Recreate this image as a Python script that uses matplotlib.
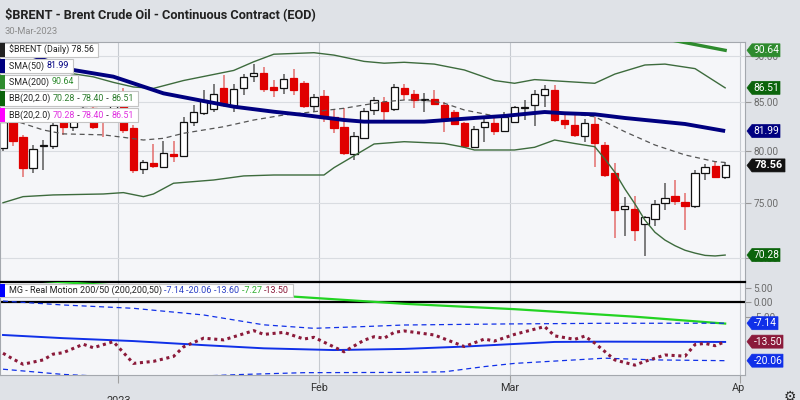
import numpy as np
import pandas as pd
import matplotlib
matplotlib.use("Agg")
import matplotlib.pyplot as plt
from matplotlib.patches import Rectangle, Polygon
from matplotlib.transforms import Bbox
from matplotlib.ticker import FixedLocator, NullLocator, NullFormatter, FuncFormatter
from matplotlib import font_manager

plt.rcParams['font.family'] = ['Roboto', 'DejaVu Sans']
plt.rcParams['axes.unicode_minus'] = False

W, H = 800, 400

# trading sessions (US holiday calendar), through the first April session
holidays = ['2022-12-26', '2023-01-02', '2023-01-16', '2023-02-20']
sessions = pd.bdate_range('2022-12-14', '2023-04-03')
sessions = sessions[~sessions.isin(pd.to_datetime(holidays))]

# ---- daily candles (Dec 14 2022 .. Mar 30 2023) ----
opens = [80.3, 82.9, 81.35, 78.35, 80.5, 80.44, 83.6, 82.38, 83.6, 84.4,
         83.9, 83.0, 85.1, 82.27, 78.25, 78.83, 78.43, 79.73, 79.48, 82.95,
         83.83, 84.23, 86.45, 84.53, 86.45, 87.82, 88.08, 86.55, 86.45, 87.55,
         86.98, 84.63, 85.64, 83.48, 82.37, 79.68, 81.25, 84.15, 84.95, 84.25,
         86.45, 85.85, 85.21, 85.36, 84.68, 83.95, 82.8, 80.34, 82.38, 82.85,
         82.0, 82.95, 84.4, 84.68, 85.75, 86.28, 83.1, 82.59, 81.5, 82.69,
         80.58, 77.86, 74.43, 74.43, 73.0, 73.5, 74.97, 75.64, 75.11, 74.72,
         77.85, 78.49, 77.46]
highs = [83.5, 83.3, 81.55, 80.53, 81.04, 82.76, 84.05, 84.35, 85.0, 85.0,
         84.2, 85.8, 86.5, 82.57, 79.13, 80.63, 80.94, 80.94, 83.4, 84.65,
         86.28, 86.97, 87.92, 86.97, 88.03, 89.13, 88.8, 87.37, 88.03, 88.56,
         87.25, 85.9, 86.28, 84.15, 84.35, 81.85, 84.35, 85.54, 85.54, 86.97,
         86.97, 86.28, 85.95, 86.28, 85.05, 84.15, 82.9, 82.49, 83.3, 83.3,
         83.93, 84.56, 85.21, 86.28, 86.82, 86.82, 84.0, 83.63, 83.2, 83.48,
         80.84, 78.75, 75.58, 75.67, 73.75, 75.28, 76.87, 77.18, 75.93, 78.15,
         78.74, 78.98, 78.93]
lows = [80.0, 80.45, 77.47, 77.85, 78.15, 80.13, 81.55, 81.96, 83.1, 82.2,
        81.4, 82.9, 81.8, 77.85, 77.75, 78.33, 78.35, 78.93, 79.4, 82.47,
        83.63, 83.93, 84.47, 83.93, 85.74, 87.17, 86.08, 85.54, 85.9, 85.74,
        84.37, 83.93, 82.95, 81.77, 79.58, 79.08, 81.15, 83.63, 83.1, 84.1,
        85.21, 84.35, 83.93, 84.68, 81.9, 82.6, 80.24, 80.3, 80.84, 81.55,
        81.9, 82.85, 83.1, 82.49, 84.45, 82.95, 82.17, 81.4, 80.84, 78.44,
        77.47, 71.78, 71.96, 71.5, 70.17, 72.83, 74.33, 74.82, 72.49, 74.53,
        77.15, 77.31, 77.21]
closes = [82.9, 80.95, 78.35, 80.13, 80.56, 82.56, 82.38, 83.6, 84.4, 82.4,
          83.0, 85.3, 82.07, 78.15, 78.93, 78.53, 79.83, 79.53, 82.95, 83.92,
          85.21, 85.9, 84.68, 86.34, 87.67, 88.15, 86.34, 86.28, 87.44, 86.28,
          84.53, 85.49, 83.32, 82.27, 79.83, 81.5, 84.1, 85.16, 84.1, 86.55,
          85.8, 85.21, 85.31, 84.78, 83.1, 82.69, 80.44, 82.18, 82.95, 82.0,
          83.48, 84.45, 84.5, 85.8, 86.34, 83.1, 82.69, 81.55, 82.8, 80.74,
          77.66, 74.33, 74.67, 72.49, 73.65, 74.9, 75.45, 75.16, 74.67, 77.8,
          78.44, 77.41, 78.56]

# ---- overlays (bar index, value) ----
sma50_idx = [0, 7, 11, 12, 16, 20, 23, 27, 30, 34, 36, 42, 47, 50, 54, 56, 59, 62, 68, 72]
sma50 = [91.2, 88.45, 87.72, 87.36, 85.92, 85.1, 84.51, 83.98, 83.64, 83.12,
         82.95, 82.95, 83.33, 83.54, 83.95, 83.82, 83.71, 83.33, 82.71, 81.99]
sma200_idx = [40, 55, 62, 67, 72]
sma200 = [97.5, 94.2, 92.8, 91.73, 90.64]
bb_up_idx = [0, 6, 9, 11, 13, 15, 18, 23, 25, 27, 31, 33, 36, 38, 40, 43, 46, 49, 51,
             53, 56, 59, 61, 64, 66, 69, 72]
bb_up = [88.3, 88.2, 87.7, 87.1, 86.6, 86.45, 87.3, 88.4, 89.36, 90.2, 90.37, 90.1,
         89.4, 89.2, 89.3, 89.1, 88.45, 87.3, 87.0, 87.4, 87.2, 87.0, 88.0, 89.0,
         89.1, 88.6, 86.51]
bb_mid_idx = [0, 1, 4, 6, 10, 12, 14, 16, 18, 22, 25, 28, 31, 34, 36, 38, 40, 42,
              44, 46, 49, 50, 53, 56, 59, 62, 65, 68, 71, 72]
bb_mid = [83.3, 83.1, 82.1, 81.7, 81.6, 81.35, 81.08, 81.25, 81.76, 82.43, 83.12,
          83.64, 83.98, 84.34, 84.69, 85.03, 85.21, 85.21, 84.87, 84.16, 83.54, 83.4,
          83.95, 83.84, 83.46, 81.92, 80.58, 79.59, 78.93, 78.85]
bb_low_idx = [0, 2, 5, 10, 12, 14, 15, 17, 21, 24, 27, 32, 33, 37, 40, 44, 46, 47,
              51, 53, 55, 57, 59, 60, 61, 62, 63, 64, 65, 66, 67, 68, 69, 70, 71, 72]
bb_low = [75.0, 75.57, 75.73, 75.82, 75.95, 75.57, 75.82, 76.84, 77.15, 77.54,
          77.63, 77.63, 78.34, 80.68, 80.91, 80.73, 80.35, 80.08, 80.08, 80.35,
          81.08, 80.73, 80.41, 79.2, 77.9, 76.3, 74.9, 73.4, 72.3, 71.6, 71.1,
          70.7, 70.45, 70.25, 70.2, 70.28]

# ---- MG Real Motion 200/50 ----
rm_green_idx = [0, 5, 30, 40, 51, 63, 72]
rm_green = [8.4, 7.2, 1.8, -0.45, -2.3, -4.9, -7.27]
rm_up_idx = [0, 6, 13, 20, 26, 31, 36, 40, 50, 60, 72]
rm_up = [0.5, -0.86, -2.0, -4.3, -7.7, -8.9, -8.3, -7.76, -7.4, -7.17, -7.14]
rm_mid_idx = [0, 6, 13, 20, 26, 33, 40, 46, 51, 55, 60, 72]
rm_mid = [-11.2, -12.3, -13.3, -14.7, -15.8, -16.4, -16.0, -15.2, -14.3, -13.6, -13.5, -13.6]
rm_low_idx = [0, 3, 6, 12, 18, 24, 30, 40, 44, 48, 51, 55, 60, 65, 72]
rm_low = [-23.0, -23.9, -24.8, -25.8, -25.6, -24.8, -24.2, -24.1, -23.9, -22.1,
          -21.0, -20.2, -19.2, -19.8, -20.06]
rm_osc_idx = [0, 1, 2, 4, 5, 6, 8, 9, 11, 13, 15, 17, 18, 20, 22, 25, 26, 28, 30,
              31, 34, 36, 37, 38, 39, 40, 43, 46, 48, 49, 51, 52, 54, 55, 57, 58,
              59, 61, 63, 64, 66, 68, 69, 70, 71, 72]
rm_osc = [-17.5, -19.5, -21.3, -19.8, -17.8, -17.3, -14.4, -15.6, -13.5, -21.0,
          -20.3, -18.6, -15.3, -12.3, -12.9, -9.7, -11.0, -10.3, -12.6, -12.0,
          -17.0, -13.0, -11.8, -12.3, -10.3, -9.8, -11.2, -15.2, -12.6, -13.3,
          -11.0, -10.1, -8.3, -11.5, -12.7, -11.6, -14.0, -19.8, -21.6, -20.3,
          -18.1, -18.5, -14.5, -14.1, -14.9, -13.5]

# colours
RED = '#e00000'
NAVY = '#000080'
GREEN200 = '#2e8b2e'
BBGREEN = '#0b640b'
BBLINE = '#3d6b3d'
BLUE = '#1030e8'
MAROON = '#8b1a3a'
LIME = '#22d322'
MAGENTA = '#ff00ff'
PANEL = '#f5f6f9'


def fx(x):
    return x / W


def fy(y):
    return 1 - y / H


fig = plt.figure(figsize=(8, 4), dpi=100, facecolor='#dfe2e7')
renderer = fig.canvas.get_renderer()

month_starts = [i for i in range(1, len(sessions)) if sessions[i].month != sessions[i - 1].month]
month_lines = [i - 0.5 for i in month_starts]
month_names = [sessions[i].strftime('%b') for i in month_starts]
n = len(closes)
x = np.arange(n)
XL = (-0.3, 73.98)

# ---------------- price panel ----------------
ax = fig.add_axes([0, 1 - 281 / H, 745 / W, (281 - 42) / H])
ax.set_facecolor(PANEL)
ax.set_yscale('log')
ax.set_ylim(68.05, 91.58)
ax.set_xlim(*XL)

ax.yaxis.set_major_locator(FixedLocator([70, 75, 80, 85, 90]))
ax.yaxis.set_minor_locator(NullLocator())
ax.yaxis.set_minor_formatter(NullFormatter())
ax.yaxis.set_major_formatter(FuncFormatter(lambda v, p: f'{v:.2f}'))
ax.yaxis.tick_right()
ax.tick_params(axis='y', length=4, width=0.8, color='#999999', labelsize=7.2,
               labelcolor='#6b6b6b', pad=2)
ax.tick_params(axis='x', bottom=False, labelbottom=False)
ax.grid(axis='y', color='#d9dce1', lw=0.8, zorder=0)
for m in month_lines:
    ax.axvline(m, color='#c6cad0', lw=0.8, zorder=0)
for s in ax.spines.values():
    s.set_color('#a4a8ae')
    s.set_linewidth(0.8)

o = np.array(opens); hi = np.array(highs); lo = np.array(lows); c = np.array(closes)
up = c >= o
wick_cols = np.where(up, '#5a5a5a', '#e36d6d')
ax.vlines(x, lo, hi, colors=wick_cols, lw=1.1, zorder=2)
fills = np.where(up, 'white', RED)
edges = np.where(up, '#111111', RED)
ax.bar(x, np.abs(c - o), bottom=np.minimum(o, c), width=0.72, color=fills,
       edgecolor=edges, linewidth=0.9, zorder=2.5)

ax.plot(bb_up_idx, bb_up, color=BBLINE, lw=1.0, zorder=3)
ax.plot(bb_low_idx, bb_low, color=BBLINE, lw=1.0, zorder=3)
ax.plot(bb_mid_idx, bb_mid, color='#555555', lw=0.9, ls=(0, (4, 3)), zorder=3)
ax.plot(sma50_idx, sma50, color=NAVY, lw=2.8, zorder=3.5, solid_capstyle='butt')
ax.plot(sma200_idx, sma200, color=GREEN200, lw=2.4, zorder=3.5)

# ---------------- Real Motion panel ----------------
ax2 = fig.add_axes([0, 1 - 375 / H, 745 / W, (375 - 281.5) / H])
ax2.set_facecolor(PANEL)
ax2.set_xlim(*XL)
ax2.set_ylim(-25.0, 7.24)
ax2.set_yticks([5, 0, -5])
ax2.set_yticklabels(['5.00', '0.00', '-5.00'])
ax2.yaxis.tick_right()
ax2.tick_params(axis='y', length=4, width=0.8, color='#999999', labelsize=7.2,
                labelcolor='#6b6b6b', pad=2)
ax2.set_xticks(month_lines)
ax2.set_xticklabels([])
ax2.tick_params(axis='x', length=6, width=0.8, color='#a0a0a0')
for m in month_lines:
    ax2.axvline(m, color='#c6cad0', lw=0.8, zorder=0)
for s in ax2.spines.values():
    s.set_color('#a4a8ae')
    s.set_linewidth(0.8)
ax2.spines['top'].set_color('black')
ax2.spines['top'].set_linewidth(1.6)
ax2.axhline(0, color='black', lw=1.6, zorder=2)

ax2.plot(rm_green_idx, rm_green, color=LIME, lw=1.6, zorder=3)
ax2.plot(rm_up_idx, rm_up, color=BLUE, lw=0.9, ls=(0, (4, 3)), zorder=3)
ax2.plot(rm_low_idx, rm_low, color=BLUE, lw=0.9, ls=(0, (4, 3)), zorder=3)
ax2.plot(rm_mid_idx, rm_mid, color=BLUE, lw=1.4, zorder=3)
ax2.plot(rm_osc_idx, rm_osc, color=MAROON, lw=2.2, ls=(0, (1, 1.2)), zorder=4)


# ---------------- header ----------------
def fit_text(xp, yp, s, width, size, **kw):
    # scale the font so the string spans the width measured on the reference
    t = fig.text(fx(xp), fy(yp), s, fontsize=size, va='center', **kw)
    w = t.get_window_extent(renderer).width
    t.set_fontsize(size * width / w)
    return t


names = {f.name for f in font_manager.fontManager.ttflist}
title_family = ['Liberation Sans Narrow', 'Roboto'] if 'Liberation Sans Narrow' in names else ['Roboto']
fit_text(5, 14, '$BRENT - Brent Crude Oil - Continuous Contract (EOD)', 312, 10,
         fontweight='bold', color='#222222', family=title_family)
fit_text(5, 31, '30-Mar-2023', 53, 7.5, color='#8c8c8c')


def text_w(s, size):
    t = fig.text(0, 0, s + '|', fontsize=size)
    w1 = t.get_window_extent(renderer).width
    t.set_text('|')
    w2 = t.get_window_extent(renderer).width
    t.remove()
    return w1 - w2


def legend_row(yc, mark, parts, size=6.4, h=14):
    full = ''.join(p for p, _ in parts)
    wbox = 9 + text_w(full, size) + 4
    fig.add_artist(Rectangle((fx(0), fy(yc + h / 2)), wbox / W, h / H, transform=fig.transFigure,
                             facecolor='white', edgecolor='#c4c4c4', lw=0.8, zorder=5))
    fig.add_artist(Rectangle((fx(0), fy(yc + h / 2)), 5 / W, h / H, transform=fig.transFigure,
                             facecolor=mark, edgecolor='none', zorder=5.5))
    pre = ''
    for s, col in parts:
        fig.text(fx(9 + text_w(pre, size)), fy(yc), s, fontsize=size, color=col,
                 va='center', ha='left', zorder=6)
        pre += s


DARK = '#222222'
legend_row(50, '#222222', [(f'$BRENT (Daily) {closes[-1]:.2f}', DARK)])
legend_row(66, NAVY, [('SMA(50) ', DARK), (f'{sma50[-1]:.2f}', NAVY)])
legend_row(82, GREEN200, [('SMA(200) ', DARK), (f'{sma200[-1]:.2f}', GREEN200)])
bb_txt = [f'{bb_low[-1]:.2f}', '78.40', f'{bb_up[-1]:.2f}']
legend_row(98.5, BBGREEN, [('BB(20,2.0) ', DARK), (bb_txt[0], '#2e7d2e'), (' - ', DARK),
                           (bb_txt[1], '#2e7d2e'), (' - ', DARK), (bb_txt[2], '#2e7d2e')])
legend_row(115, MAGENTA, [('BB(20,2.0) ', DARK), (bb_txt[0], '#e030e0'), (' - ', DARK),
                          (bb_txt[1], '#e030e0'), (' - ', DARK), (bb_txt[2], '#e030e0')])
legend_row(290.5, '#0000ff', [('MG - Real Motion 200/50 (200,200,50) ', DARK),
                              (f'{rm_up[-1]:.2f} ', '#2a3fc4'), (f'{rm_low[-1]:.2f} ', '#2a3fc4'),
                              (f'{rm_mid[-1]:.2f} ', '#2a3fc4'), (f'{rm_green[-1]:.2f} ', '#2fae2f'),
                              (f'{rm_osc[-1]:.2f}', MAROON)], size=6.45, h=13)


def price_tag(axis, value, col, x1=780, bold=False, fs=7.4):
    yc = H - axis.transData.transform((0, value))[1]
    pts = [(747, yc), (752, yc - 6.5), (x1, yc - 6.5), (x1, yc + 6.5), (752, yc + 6.5)]
    fig.add_artist(Polygon([(fx(a), fy(b)) for a, b in pts], closed=True, transform=fig.transFigure,
                           facecolor=col, edgecolor=col, lw=0.5, zorder=5))
    fig.text(fx((752 + x1) / 2 + 0.5), fy(yc), f'{value:.2f}', color='white', fontsize=fs,
             fontweight='bold' if bold else 'normal', ha='center', va='center', zorder=6)


price_tag(ax, sma200[-1], GREEN200)
price_tag(ax, bb_up[-1], BBGREEN)
price_tag(ax, sma50[-1], NAVY)
price_tag(ax, closes[-1], '#111111', x1=785, bold=True, fs=7.8)
price_tag(ax, bb_low[-1], BBGREEN)
price_tag(ax2, rm_up[-1], BLUE, x1=778)
price_tag(ax2, rm_osc[-1], MAROON, x1=783)
price_tag(ax2, rm_low[-1], BLUE, x1=783)

# ---------------- date axis ----------------
clip = Bbox.from_extents(0, 0, 745, H)
for m, name in zip(month_lines, month_names):
    xp = ax2.transData.transform((m, 0))[0]
    if name == 'Jan':
        t = fig.text(fx(xp), fy(396.5), str(sessions[month_starts[0]].year), fontsize=7.8,
                     color='#333333', ha='center', va='top')
    else:
        t = fig.text(fx(xp), fy(388), name, fontsize=7.8, color='#333333', ha='center', va='center')
    t.set_clip_box(clip)
    t.set_clip_on(True)

fig.text(fx(790), fy(397), '\u2699', fontsize=10, color='#2a2a2a', ha='center', va='center',
         family='DejaVu Sans')

fig.savefig('out.png', dpi=100, facecolor=fig.get_facecolor())
